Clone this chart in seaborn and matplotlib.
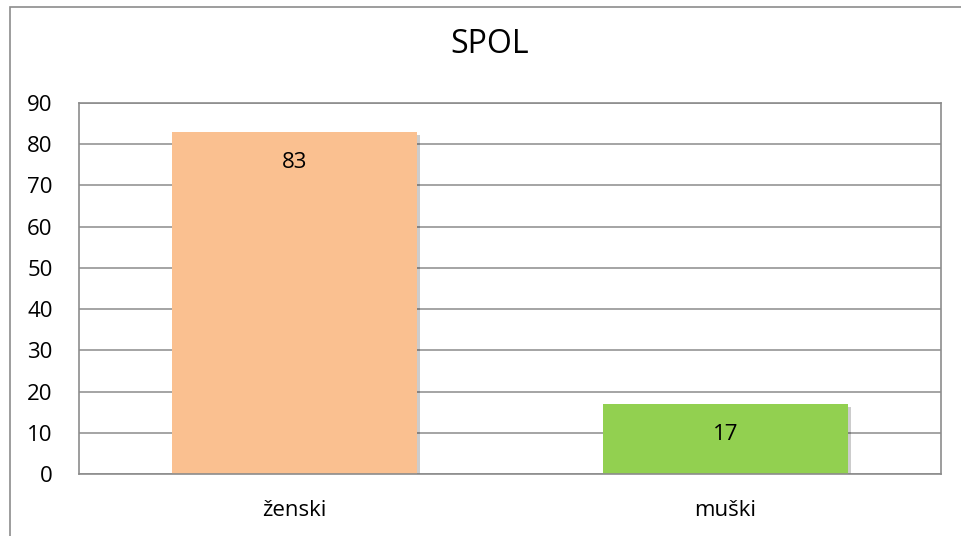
import pandas as pd
import seaborn as sns
import matplotlib.pyplot as plt
import matplotlib.patheffects as pe
from matplotlib.patches import Rectangle

# Data
categories = ['ženski', 'muški']
values = [83, 17]
colors = ['#FAC090', '#92D050']
yticks = list(range(0, 100, 10))

df = pd.DataFrame({'spol': categories, 'broj': values})

sns.set_theme(style='white')
plt.rcParams['font.family'] = ['Open Sans', 'DejaVu Sans']

fig = plt.figure(figsize=(9.62, 5.36), dpi=100)
ax = fig.add_axes([0.0821, 0.1157, 0.8960, 0.6921])

sns.barplot(data=df, x='spol', y='broj', hue='spol', palette=colors,
            width=0.57, legend=False, ax=ax, saturation=1)

# shadow under bars + value labels inside
for bar in ax.patches:
    bar.set_path_effects([pe.SimplePatchShadow(offset=(2, -2), shadow_rgbFace='#000000',
                                               alpha=0.2), pe.Normal()])
    bar.set_edgecolor('none')
    ax.annotate(f'{bar.get_height():.0f}',
                (bar.get_x() + bar.get_width() / 2, bar.get_height()),
                xytext=(0, -31), textcoords='offset pixels',
                ha='center', va='center', fontsize=16, color='black')

ax.set_ylim(0, 90)
ax.set_yticks(yticks)
ax.yaxis.grid(True, color='#8c8c8c', linewidth=1.1)
ax.set_axisbelow(True)
for s in ax.spines.values():
    s.set_visible(True)
    s.set_color('#8c8c8c')
    s.set_linewidth(1.2)

ax.tick_params(axis='y', length=0, pad=19, labelsize=16, labelcolor='black')
ax.tick_params(axis='x', length=0, pad=19, labelsize=16, labelcolor='black')
ax.set_xlabel('')
ax.set_ylabel('')

fig.suptitle('SPOL', x=0.509, y=0.947, fontsize=23, color='black')

# outer chart frame
fig.patches.append(Rectangle((0.0104, -0.1), 1.2, 1.087, transform=fig.transFigure,
                             fill=False, edgecolor='#8c8c8c', linewidth=1.2))

fig.savefig('out.png', dpi=100)
